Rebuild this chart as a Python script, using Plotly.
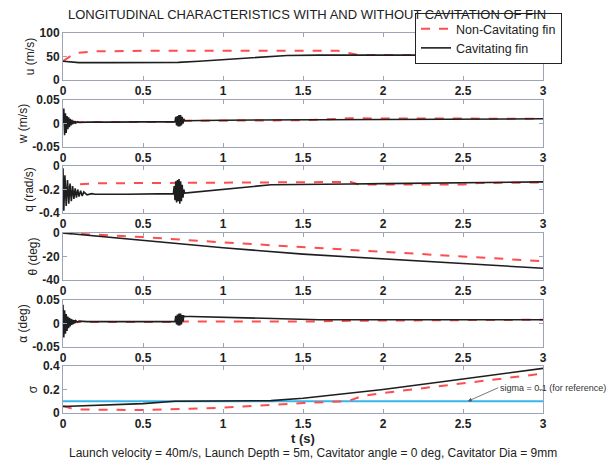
import plotly.graph_objects as go

# ---------------- data ----------------
t_ticks = [0, 0.5, 1, 1.5, 2, 2.5, 3]

# u (m/s)
t_u_nc = [0, 0.03, 0.06, 0.1, 0.15, 0.2, 0.5, 1.0, 1.5, 1.72, 1.78, 1.85, 2.0, 2.5, 3.0]
u_nc = [40, 48, 54, 58, 60, 61, 62, 62, 62, 62, 58, 53, 53, 53, 53]
t_u_c = [0, 0.05, 0.1, 0.3, 0.72, 0.85, 1.0, 1.2, 1.4, 1.6, 2.0, 2.5, 3.0]
u_c = [40, 38, 37, 37, 37.5, 40, 43, 48, 52, 53, 53, 53, 53]

# w (m/s)
t_w_nc = [0, 0.01, 0.02, 0.04, 0.06, 0.1, 0.7, 0.76, 1.0, 1.5, 1.8, 2.4, 2.45, 3.0]
w_nc = [0, 0.006, -0.003, 0.004, 0.002, 0.003, 0.003, 0.006, 0.006, 0.007, 0.011, 0.011, 0.0095, 0.01]
t_w_c = [0, 0.005, 0.01, 0.015, 0.02, 0.025, 0.03, 0.035, 0.04, 0.045, 0.05, 0.055,
         0.06, 0.065, 0.07, 0.075, 0.08, 0.09, 0.1, 0.12, 0.15, 0.3, 0.69,
         0.70, 0.705, 0.71, 0.715, 0.72, 0.725, 0.73, 0.735, 0.74, 0.745, 0.75, 0.755, 0.76,
         1.0, 1.5, 2.0, 2.5, 3.0]
w_c = [0.0, 0.032, -0.025, 0.022, -0.02, 0.016, -0.012, 0.013, -0.008, 0.010, -0.004, 0.008,
       -0.002, 0.006, 0.0, 0.005, 0.001, 0.004, 0.002, 0.003, 0.003, 0.003, 0.004,
       0.004, 0.014, -0.004, 0.016, -0.006, 0.018, -0.006, 0.018, -0.004, 0.014, 0.0, 0.01, 0.006,
       0.007, 0.008, 0.009, 0.0095, 0.01]

# q (rad/s)
t_q_nc = [0, 0.03, 0.06, 0.1, 0.2, 0.5, 1.0, 1.3, 1.8, 1.85, 2.5, 2.6, 3.0]
q_nc = [-0.2, -0.18, -0.165, -0.155, -0.148, -0.145, -0.143, -0.14, -0.136, -0.158, -0.158, -0.145, -0.14]
t_q_c = [0, 0.005, 0.012, 0.02, 0.028, 0.036, 0.044, 0.052, 0.06, 0.068, 0.076, 0.084,
         0.092, 0.1, 0.11, 0.12, 0.13, 0.15, 0.18, 0.2, 0.4, 0.69,
         0.695, 0.70, 0.705, 0.71, 0.715, 0.72, 0.725, 0.73, 0.735, 0.74, 0.745, 0.75, 0.755, 0.76,
         1.3, 1.5, 1.8, 2.0, 2.5, 3.0]
q_c = [-0.02, -0.38, -0.08, -0.34, -0.12, -0.32, -0.15, -0.3, -0.17, -0.28, -0.19, -0.27,
       -0.2, -0.26, -0.21, -0.255, -0.22, -0.245, -0.235, -0.24, -0.24, -0.235,
       -0.17, -0.29, -0.13, -0.31, -0.12, -0.30, -0.11, -0.32, -0.13, -0.30, -0.16, -0.27, -0.2, -0.23,
       -0.16, -0.155, -0.153, -0.15, -0.145, -0.135]

# theta (deg)
t_th = [0, 0.5, 1.0, 1.5, 2.0, 2.5, 3.0]
th_nc = [0, -3.5, -8, -12, -16, -20, -24]
th_c = [0, -6.5, -12.5, -18, -22, -26, -30]

# alpha (deg)
t_a_nc = [0, 0.01, 0.02, 0.04, 0.06, 0.1, 0.7, 0.76, 1.0, 1.5, 1.85, 3.0]
a_nc = [0, 0.008, -0.004, 0.005, 0.002, 0.003, 0.003, 0.004, 0.004, 0.004, 0.006, 0.008]
t_a_c = [0, 0.005, 0.01, 0.015, 0.02, 0.025, 0.03, 0.035, 0.04, 0.045, 0.05, 0.055,
         0.06, 0.065, 0.07, 0.075, 0.08, 0.09, 0.1, 0.12, 0.15, 0.3, 0.69,
         0.70, 0.705, 0.71, 0.715, 0.72, 0.725, 0.73, 0.735, 0.74, 0.745, 0.75, 0.755, 0.76,
         0.8, 1.0, 1.3, 1.6, 2.0, 2.5, 3.0]
a_c = [0.04, -0.03, 0.028, -0.022, 0.02, -0.016, 0.015, -0.01, 0.012, -0.006, 0.01, -0.003,
       0.008, -0.001, 0.007, 0.001, 0.006, 0.003, 0.005, 0.004, 0.004, 0.004, 0.004,
       0.004, 0.016, -0.002, 0.019, -0.004, 0.021, -0.004, 0.021, -0.002, 0.018, 0.004, 0.016, 0.015,
       0.015, 0.013, 0.01, 0.008, 0.008, 0.008, 0.008]

# sigma
t_s_nc = [0, 0.05, 0.1, 0.3, 0.5, 1.0, 1.5, 1.78, 1.87, 2.0, 2.5, 3.0]
s_nc = [0.06, 0.04, 0.03, 0.025, 0.025, 0.045, 0.085, 0.1, 0.145, 0.17, 0.25, 0.335]
t_s_c = [0, 0.5, 0.7, 1.0, 1.3, 1.5, 2.0, 2.5, 3.0]
s_c = [0.055, 0.08, 0.1, 0.1, 0.105, 0.125, 0.2, 0.29, 0.38]
t_s_ref = [0, 3]
s_ref = [0.1, 0.1]

# ---------------- styling ----------------
RED = "#ff4d4d"
BLK = "#1e1e1e"
BLUE = "#38b6ea"
AXC = "#9ea3b5"
FONT = "Liberation Sans, Arial, sans-serif"

# pixel layout: plot area x 63..543, y 33..413
L, R, T, B = 63, 610 - 543, 33, 465 - 413
H = 465 - T - B
W = 610 - L - R
tops = [33, 100, 166, 233, 300, 366]
ph = 47
domains = [[(413 - (tp + ph)) / H, (413 - tp) / H] for tp in tops]

fig = go.Figure()

panels = [
    (t_u_nc, u_nc, t_u_c, u_c, "u (m/s)", [0, 100], [0, 50, 100], ["0", "50", "100"]),
    (t_w_nc, w_nc, t_w_c, w_c, "w (m/s)", [-0.05, 0.05], [-0.05, 0, 0.05], ["-0.05", "0", "0.05"]),
    (t_q_nc, q_nc, t_q_c, q_c, "q (rad/s)", [-0.4, 0], [-0.4, -0.2, 0], ["-0.4", "-0.2", "0"]),
    (t_th, th_nc, t_th, th_c, "θ (deg)", [-40, 0], [-40, -20, 0], ["-40", "-20", "0"]),
    (t_a_nc, a_nc, t_a_c, a_c, "α (deg)", [-0.05, 0.05], [-0.05, 0, 0.05], ["-0.05", "0", "0.05"]),
    (t_s_nc, s_nc, t_s_c, s_c, "σ", [0, 0.4], [0, 0.2, 0.4], ["0", "0.2", "0.4"]),
]

layout_axes = {}
for i, (tn, yn, tc, yc, ytitle, yrange, yt, ytt) in enumerate(panels):
    n = i + 1
    xa = "x" if n == 1 else f"x{n}"
    ya = "y" if n == 1 else f"y{n}"
    if n == 6:
        fig.add_trace(go.Scatter(x=t_s_ref, y=s_ref, mode="lines", xaxis=xa, yaxis=ya,
                                 line=dict(color=BLUE, width=2), showlegend=False,
                                 hoverinfo="skip"))
    fig.add_trace(go.Scatter(x=tn, y=yn, mode="lines", xaxis=xa, yaxis=ya,
                             name="Non-Cavitating fin", legendrank=1,
                             line=dict(color=RED, width=2, dash="dash"),
                             showlegend=(n == 1)))
    fig.add_trace(go.Scatter(x=tc, y=yc, mode="lines", xaxis=xa, yaxis=ya,
                             name="Cavitating fin", legendrank=2,
                             line=dict(color=BLK, width=1.6),
                             showlegend=(n == 1)))
    layout_axes["xaxis" if n == 1 else f"xaxis{n}"] = dict(
        domain=[0, 1], anchor=ya, range=[0, 3], tickvals=t_ticks,
        ticktext=["0", "0.5", "1", "1.5", "2", "2.5", "3"],
        showline=True, mirror="ticks", linecolor=AXC, linewidth=1,
        ticks="inside", ticklen=4, tickcolor=AXC, showgrid=False, zeroline=False,
        tickfont=dict(family=FONT, size=12, color="#222", weight="bold"),
        automargin=False,
        title=dict(text="t (s)" if n == 6 else "",
                   font=dict(family=FONT, size=13, color="#222", weight="bold"),
                   standoff=2),
    )
    layout_axes["yaxis" if n == 1 else f"yaxis{n}"] = dict(
        domain=domains[i], anchor=xa, range=yrange, tickvals=yt, ticktext=ytt,
        showline=True, mirror="ticks", linecolor=AXC, linewidth=1,
        ticks="inside", ticklen=4, tickcolor=AXC, showgrid=False, zeroline=False,
        tickfont=dict(family=FONT, size=12, color="#222", weight="bold"),
        automargin=False,
        title=dict(text=ytitle, font=dict(family=FONT, size=12, color="#222"), standoff=2),
    )

fig.update_layout(**layout_axes)

fig.add_annotation(x=2.53, y=0.1, xref="x6", yref="y6",
                   ax=2.72, ay=0.215, axref="x6", ayref="y6",
                   text="sigma = 0.1 (for reference)", showarrow=True,
                   arrowhead=2, arrowsize=1, arrowwidth=0.8, arrowcolor="#555",
                   xanchor="left", yanchor="middle",
                   font=dict(family=FONT, size=9, color="#333"))

fig.add_annotation(x=(313 - L) / W, y=(413 - 453) / H, xref="paper", yref="paper",
                   text="Launch velocity = 40m/s, Launch Depth = 5m, Cavitator angle = 0 deg, Cavitator Dia = 9mm",
                   showarrow=False, xanchor="center", yanchor="middle",
                   font=dict(family=FONT, size=12, color="#222"))

fig.update_layout(
    width=610, height=465,
    margin=dict(l=L, r=R, t=T, b=B, autoexpand=False),
    paper_bgcolor="white", plot_bgcolor="white",
    font=dict(family=FONT, color="#222"),
    title=dict(text="LONGITUDINAL CHARACTERISTICS WITH AND WITHOUT CAVITATION OF FIN",
               x=307 / 610, xref="container", xanchor="center",
               y=1 - 14 / 465, yref="container", yanchor="middle",
               font=dict(family=FONT, size=13, color="#222")),
    legend=dict(x=(562 - L) / W, y=(413 - 13) / H, xanchor="right", yanchor="top",
                bgcolor="white", bordercolor="#222", borderwidth=1,
                font=dict(family=FONT, size=12.5, color="#222"),
                tracegroupgap=0, itemwidth=30),
    showlegend=True,
)

fig.write_html("out.html", config={"displayModeBar": False},
               post_script="document.body.style.margin='0';")
